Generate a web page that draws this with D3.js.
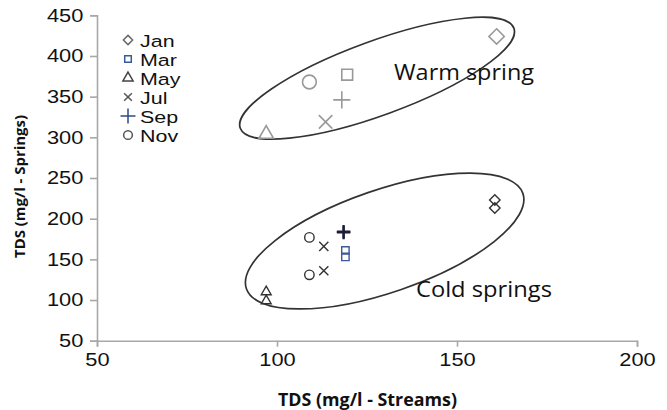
<!DOCTYPE html>
<html>
<head>
<meta charset="utf-8">
<script src="https://cdn.jsdelivr.net/npm/d3@7"></script>
<style>
  body { margin: 0; background: #fff; }
  svg { display: block; }
</style>
</head>
<body>
<svg width="667" height="410"></svg>
<script>
var months = ["Jan", "Mar", "May", "Jul", "Sep", "Nov"];

// warm spring, one point per month
var warmX = [161, 119.5, 97, 113.5, 118, 109];
var warmY = [424, 377, 304, 319, 346, 368];

// cold springs, two points per month
var coldX = [[160.5, 160.5], [119, 119], [97, 97], [113, 113], [118.5, 118.5], [109, 109]];
var coldY = [[223, 213], [161, 153], [110, 99], [166, 136], [184, 183], [177, 131]];

var xTicks = [50, 100, 150, 200];
var yTicks = [50, 100, 150, 200, 250, 300, 350, 400, 450];

// groups drawn round the points: major axis from centre to tip, in data units
var groups = [
  {name: "Warm spring", cx: 127.8, cy: 372.7, tx: 165.8, ty: 434.2, ratio: 0.254, lx: 132.5, ly: 370.5, len: 140},
  {name: "Cold springs", cx: 129.9, cy: 172.5, tx: 168.3, ty: 231.1, ratio: 0.35, lx: 138.6, ly: 104, len: 136}
];

var shapes = [d3.symbolDiamond2, d3.symbolSquare2, d3.symbolTriangle2, d3.symbolTimes, d3.symbolPlus, d3.symbolCircle];
var sizeK = [1, 1, 1, 0.8, 0.65, 1];
var legendSizes = [55, 55, 75, 40, 75, 60];
var legendColors = ["#6a6a6a", "#3a5a9a", "#444", "#555", "#2e4a8a", "#555"];
var coldColors = ["#333", "#3a5a9a", "#333", "#333", "#1c1c3a", "#333"];

var svg = d3.select("svg");

var x = d3.scaleLinear().domain([50, 200]).range([97, 637]);
var y = d3.scaleLinear().domain([50, 450]).range([340.7, 15.3]);

// the source picture is a bit wider than tall, so its text is stretched
var stretch = 1.18;

// axes
var xAxis = svg.append("g")
  .attr("transform", "translate(0," + y(50) + ")")
  .call(d3.axisBottom(x).tickValues(xTicks).tickSize(6).tickSizeOuter(6).tickPadding(6));
var yAxis = svg.append("g")
  .attr("transform", "translate(" + x(50) + ",0)")
  .call(d3.axisLeft(y).tickValues(yTicks).tickSize(7).tickSizeOuter(7).tickPadding(6));

[xAxis, yAxis].forEach(function(a) {
  a.select(".domain").attr("stroke", "#a8a8a8").attr("stroke-width", 1.6);
  a.selectAll(".tick line").attr("stroke", "#a8a8a8").attr("stroke-width", 1.6);
  a.selectAll(".tick text")
    .attr("fill", "#111")
    .attr("transform", "scale(" + stretch + ",1)")
    .style("font-family", "'Liberation Sans', Arial, sans-serif")
    .style("font-size", "18.5px");
});
yAxis.selectAll(".tick text").attr("x", -13.7 / stretch);

svg.append("text")
  .attr("x", 367.5)
  .attr("y", 406)
  .attr("text-anchor", "middle")
  .attr("textLength", 179)
  .attr("lengthAdjust", "spacingAndGlyphs")
  .style("font-family", "'Open Sans', sans-serif")
  .style("font-weight", "bold")
  .style("font-size", "17px")
  .attr("fill", "#111")
  .text("TDS (mg/l - Streams)");

svg.append("text")
  .attr("transform", "translate(25,186.5) rotate(-90)")
  .attr("text-anchor", "middle")
  .attr("textLength", 143)
  .attr("lengthAdjust", "spacingAndGlyphs")
  .style("font-family", "'Open Sans', sans-serif")
  .style("font-weight", "bold")
  .style("font-size", "15px")
  .attr("fill", "#111")
  .text("TDS (mg/l - Springs)");

// ellipses
groups.forEach(function(g) {
  var px = x(g.cx), py = y(g.cy);
  var dx = x(g.tx) - px, dy = y(g.ty) - py;
  var a = Math.sqrt(dx * dx + dy * dy);
  var angle = Math.atan2(dy, dx) * 180 / Math.PI;
  svg.append("ellipse")
    .attr("cx", px)
    .attr("cy", py)
    .attr("rx", a)
    .attr("ry", a * g.ratio)
    .attr("transform", "rotate(" + angle + "," + px + "," + py + ")")
    .attr("fill", "none")
    .attr("stroke", "#333")
    .attr("stroke-width", 1.7);
});

// warm spring points
months.forEach(function(m, i) {
  svg.append("path")
    .attr("d", d3.symbol().type(shapes[i]).size(150 * sizeK[i])())
    .attr("transform", "translate(" + x(warmX[i]) + "," + y(warmY[i]) + ")")
    .attr("fill", "none")
    .attr("stroke", "#999")
    .attr("stroke-width", 1.6);
});

// cold spring points
months.forEach(function(m, i) {
  coldX[i].forEach(function(v, j) {
    svg.append("path")
      .attr("d", d3.symbol().type(shapes[i]).size((i == 4 ? 95 : 70) * sizeK[i])())
      .attr("transform", "translate(" + x(v) + "," + y(coldY[i][j]) + ")")
      .attr("fill", "none")
      .attr("stroke", coldColors[i])
      .attr("stroke-width", i == 4 ? 2.2 : 1.4);
  });
});

// group labels
groups.forEach(function(g) {
  svg.append("text")
    .attr("x", x(g.lx))
    .attr("y", y(g.ly))
    .attr("textLength", g.len)
    .attr("lengthAdjust", "spacingAndGlyphs")
    .style("font-family", "'Open Sans', sans-serif")
    .style("font-size", "22px")
    .attr("fill", "#111")
    .text(g.name);
});

// legend
var legend = svg.append("g").attr("transform", "translate(128,40)");
months.forEach(function(m, i) {
  var row = legend.append("g").attr("transform", "translate(0," + (i * 19) + ")");
  row.append("path")
    .attr("d", d3.symbol().type(shapes[i]).size(legendSizes[i])())
    .attr("fill", "none")
    .attr("stroke", legendColors[i])
    .attr("stroke-width", 1.5);
  row.append("text")
    .attr("transform", "translate(12,6.5) scale(1.3,1)")
    .style("font-family", "'Liberation Sans', Arial, sans-serif")
    .style("font-size", "16.5px")
    .attr("fill", "#111")
    .text(m);
});
</script>
</body>
</html>
